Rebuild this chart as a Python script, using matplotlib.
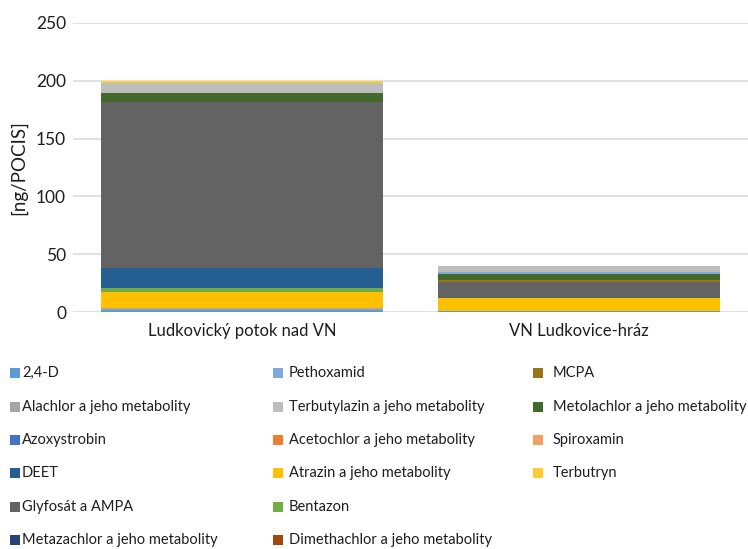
import matplotlib
matplotlib.use("Agg")
import matplotlib.pyplot as plt
from matplotlib.patches import Rectangle
import numpy as np

plt.rcParams['font.family'] = ['Lato', 'DejaVu Sans']

# Sampling sites
sites = ["Ludkovický potok nad VN", "VN Ludkovice-hráz"]

# Substances in stacking order (bottom to top) with values for each site [ng/POCIS]
substances = ["2,4-D", "Acetochlor a jeho metabolity", "Alachlor a jeho metabolity",
              "Atrazin a jeho metabolity", "Azoxystrobin", "Bentazon", "DEET",
              "Dimethachlor a jeho metabolity", "Glyfosát a AMPA", "MCPA",
              "Metazachlor a jeho metabolity", "Metolachlor a jeho metabolity",
              "Pethoxamid", "Spiroxamin", "Terbutylazin a jeho metabolity", "Terbutryn"]
site1 = [2.0, 0.0, 1.5, 14.3, 0.0, 2.9, 17.3, 0.0, 143.9, 0.0, 0.0, 7.2, 0.0, 0.0, 9.1, 1.5]
site2 = [1.4, 0.0, 0.0, 10.7, 0.0, 0.0, 0.0, 0.0, 14.3, 1.4, 0.0, 4.9, 2.2, 0.0, 5.0, 0.0]

colors = {
    "2,4-D": "#5B9BD5",
    "Pethoxamid": "#7EAADC",
    "MCPA": "#997416",
    "Alachlor a jeho metabolity": "#A5A5A5",
    "Terbutylazin a jeho metabolity": "#BDBDBD",
    "Metolachlor a jeho metabolity": "#43682B",
    "Azoxystrobin": "#4472C4",
    "Acetochlor a jeho metabolity": "#ED7D31",
    "Spiroxamin": "#F4A064",
    "DEET": "#255E91",
    "Atrazin a jeho metabolity": "#FFC000",
    "Terbutryn": "#FFCD33",
    "Glyfosát a AMPA": "#636363",
    "Bentazon": "#70AD47",
    "Metazachlor a jeho metabolity": "#264478",
    "Dimethachlor a jeho metabolity": "#9E480E",
}

# Legend layout, one list per column
legend_cols = [
    ["2,4-D", "Alachlor a jeho metabolity", "Azoxystrobin", "DEET",
     "Glyfosát a AMPA", "Metazachlor a jeho metabolity"],
    ["Pethoxamid", "Terbutylazin a jeho metabolity", "Acetochlor a jeho metabolity",
     "Atrazin a jeho metabolity", "Bentazon", "Dimethachlor a jeho metabolity"],
    ["MCPA", "Metolachlor a jeho metabolity", "Spiroxamin", "Terbutryn"],
]

yticks = [0, 50, 100, 150, 200, 250]

W, H = 748, 549
fig = plt.figure(figsize=(W / 100, H / 100), dpi=100)
ax = fig.add_axes([73 / W, 1 - 312.3 / H, 675 / W, 289.6 / H])

x = np.arange(len(sites))
values = np.array([site1, site2]).T
bottom = np.zeros(len(sites))
for name, vals in zip(substances, values):
    ax.bar(x, vals, width=0.835, bottom=bottom, color=colors[name], linewidth=0, zorder=3)
    bottom += vals

ax.set_xlim(-0.5, 1.5)
ax.set_ylim(0, 250)
ax.set_yticks(yticks)
ax.set_yticklabels([str(v) for v in yticks], fontsize=12.5, color="#1e1e1e")
ax.set_xticks(x)
ax.set_xticklabels(sites, fontsize=12, color="#1e1e1e")
ax.tick_params(axis="both", length=0)
ax.tick_params(axis="y", pad=5)
ax.tick_params(axis="x", pad=8)
ax.grid(axis="y", color="#D9D9D9", linewidth=1.1, zorder=0)
for s in ax.spines.values():
    s.set_visible(False)
ax.set_ylabel("[ng/POCIS]", fontsize=13.5, color="#1e1e1e")
ax.yaxis.set_label_coords(-(73 - 27) / 675, 0.5)

# Legend drawn as three columns of swatches and labels
col_sq_x = [10, 273, 533]
col_tx_x = [22, 289, 553]
row_y = [373, 407, 440, 473, 507, 540]
sq = 10
for ci, col in enumerate(legend_cols):
    for ri, name in enumerate(col):
        yc = row_y[ri]
        fig.patches.append(Rectangle(((col_sq_x[ci]) / W, 1 - (yc + sq / 2) / H),
                                     sq / W, sq / H, transform=fig.transFigure,
                                     facecolor=colors[name], edgecolor="none"))
        fig.text(col_tx_x[ci] / W, 1 - yc / H, name, fontsize=10.5,
                 color="#1e1e1e", va="center", ha="left")

fig.savefig("out.png", dpi=100)
